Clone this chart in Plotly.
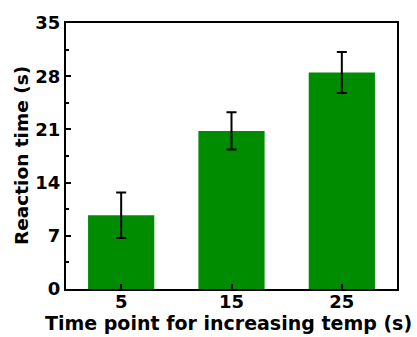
import plotly.graph_objects as go

categories = ["5", "15", "25"]
values = [9.7, 20.8, 28.5]
errors = [3.0, 2.45, 2.7]
y_ticks = [0, 7, 14, 21, 28, 35]
x_title = "Time point for increasing temp (s)"
y_title = "Reaction time (s)"

fig = go.Figure()
fig.add_trace(go.Bar(
    x=categories, y=values,
    marker=dict(color="#008C00", line=dict(width=0)),
    width=0.6,
    error_y=dict(type="data", array=errors, color="black", thickness=2, width=5),
))

font_family = "DejaVu Sans, Liberation Sans, Arial, sans-serif"
fig.update_layout(
    width=417, height=337,
    margin=dict(l=66, r=20, t=23, b=48, autoexpand=False),
    paper_bgcolor="white", plot_bgcolor="white",
    showlegend=False,
    font=dict(family=font_family, color="black"),
)
fig.update_xaxes(
    type="category", range=[-0.5, 2.5], automargin=False,
    showline=True, linecolor="black", linewidth=2, mirror=True,
    ticks="inside", ticklen=5, tickwidth=2, tickcolor="black",
    tickfont=dict(size=18, family=font_family, weight="bold"),
    ticklabelstandoff=-5,
    showgrid=False,
)
fig.update_yaxes(
    range=[0, 35], tickvals=y_ticks, automargin=False,
    showline=True, linecolor="black", linewidth=2, mirror=True,
    ticks="inside", ticklen=5, tickwidth=2, tickcolor="black",
    minor=dict(ticks="inside", ticklen=3, tickwidth=1.5, tickcolor="black", dtick=3.5, tick0=0),
    tickfont=dict(size=18, family=font_family, weight="bold"),
    showgrid=False, zeroline=False,
)
fig.add_annotation(
    text=f"<b>{x_title}</b>", xref="paper", yref="paper", x=0.5, y=0,
    xanchor="center", yanchor="middle", yshift=-34, xshift=-3, showarrow=False,
    font=dict(size=19, family=font_family, color="black"),
)
fig.add_annotation(
    text=f"<b>{y_title}</b>", xref="paper", yref="paper", x=0, y=0.5,
    xanchor="center", yanchor="middle", xshift=-45, yshift=0, textangle=-90, showarrow=False,
    font=dict(size=18.5, family=font_family, color="black"),
)
fig.write_html("out.html", config={"displayModeBar": False},
               post_script="document.body.style.margin='0px';")
